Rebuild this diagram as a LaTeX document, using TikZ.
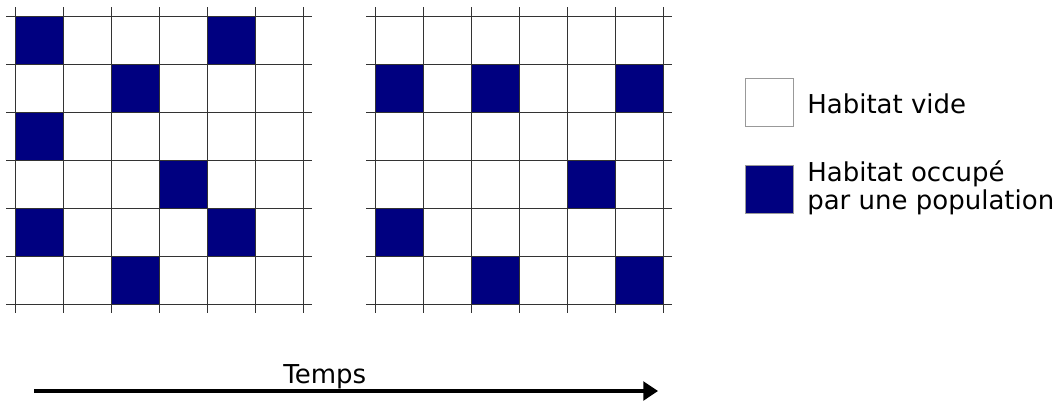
\documentclass[tikz,border=0pt]{standalone}
\usepackage{fontspec}
\setmainfont{DejaVu Sans}
\usetikzlibrary{arrows.meta}
\definecolor{occ}{HTML}{000080}
\definecolor{gridc}{HTML}{333333}
\tikzset{
  cellocc/.style={fill=occ},
  gridline/.style={draw=gridc, line width=0.6pt},
  legbox/.style={draw=gray!80, line width=0.75pt, minimum width=36pt, minimum height=36pt, inner sep=0pt},
  legtext/.style={font=\fontsize{19.5pt}{21pt}\selectfont, inner sep=0pt, align=left},
}
\begin{document}
\begin{tikzpicture}[x=0.75pt,y=-0.75pt]
\useasboundingbox (0,0) rectangle (1059,400);
% grid 1 occupied cells
\foreach \c/\r in {0/0,4/0,2/1,0/2,3/3,0/4,4/4,2/5}{
  \fill[cellocc] ({15+48*\c},{16+48*\r}) rectangle ++(48,48);
}
% grid 2 occupied cells
\foreach \c/\r in {0/1,2/1,5/1,4/3,0/4,2/5,5/5}{
  \fill[cellocc] ({375+48*\c},{16+48*\r}) rectangle ++(48,48);
}
% grid lines
\foreach \ox in {15,375}{
  \foreach \i in {0,...,6}{
    \draw[gridline] ({\ox+48*\i},7) -- ({\ox+48*\i},313);
    \draw[gridline] ({\ox-9},{16+48*\i}) -- ({\ox+297},{16+48*\i});
  }
}
% legend
\node[legbox, fill=white, anchor=north west] (vide) at (745,78) {};
\node[legbox, fill=occ, anchor=north west] (occupe) at (745,165) {};
\node[legtext, anchor=base west] (tvide) at (807,113) {Habitat vide};
\node[legtext, anchor=base west] (tocc) at (807,209) {Habitat occupé\\par une population};
% time arrow
\coordinate (a0) at (34,391);
\coordinate (a1) at (658,391);
\draw[line width=2.4pt, -{Triangle[length=11pt,width=14pt]}] (a0) -- (a1);
\node[legtext, anchor=base west] (temps) at (283,383) {Temps};
\end{tikzpicture}
\end{document}
